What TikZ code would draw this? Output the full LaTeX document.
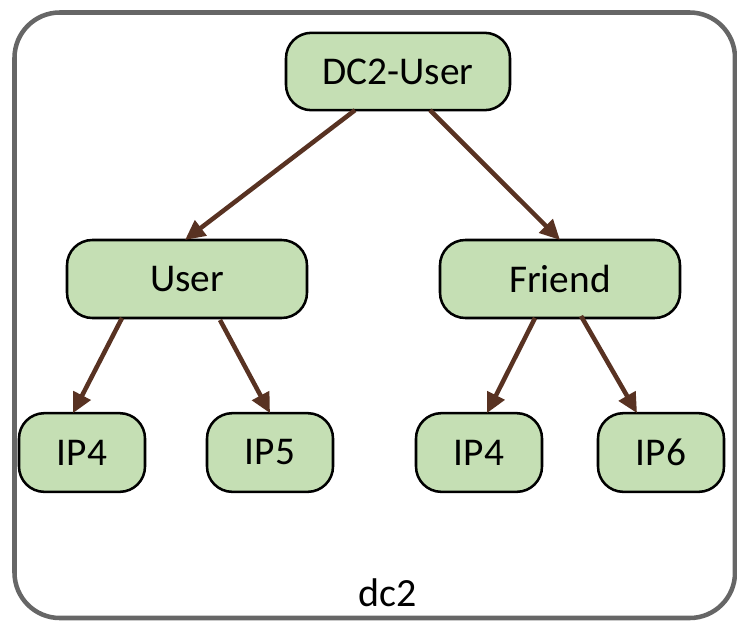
\documentclass[tikz,border=0pt]{standalone}
\usepackage{fontspec}
\setmainfont{Carlito}
\usetikzlibrary{arrows.meta,calc}
\definecolor{nodefill}{HTML}{C5DFB4}
\definecolor{arrowc}{HTML}{583222}
\definecolor{framec}{HTML}{666666}
\begin{document}
\begin{tikzpicture}[x=0.75pt,y=-0.75pt,
  box/.style={draw=black,line width=1.9pt,fill=nodefill,rounded corners=19pt,inner sep=0pt,outer sep=0pt,font=\fontsize{29.5}{34}\selectfont},
  topbox/.style={box,minimum width=168pt,minimum height=58pt},
  midbox/.style={box,minimum width=180pt,minimum height=58.5pt},
  leafbox/.style={box,minimum width=94.5pt,minimum height=59pt},
  conn/.style={draw=arrowc,line width=3.4pt,-{Triangle[length=15pt,width=14pt]}},
  frame/.style={draw=framec,line width=3.4pt,rounded corners=34pt}]
\useasboundingbox (0,0) rectangle (737,621);
\draw[frame] (14.5,12.5) rectangle (735,618);
\node[topbox] (dc) at (398,71.5) {\raisebox{-3pt}{DC2-User}};
\node[midbox] (user) at (187,279) {\raisebox{-3.5pt}{User}};
\node[midbox] (friend) at (560,279) {\raisebox{-3.5pt}{Friend}};
\node[leafbox] (ip4a) at (82,452.5) {\raisebox{-3pt}{IP4}};
\node[leafbox] (ip5) at (270,452.5) {\raisebox{-3pt}{IP5}};
\node[leafbox] (ip4b) at (479,452.5) {\raisebox{-3pt}{IP4}};
\node[leafbox] (ip6) at (661,452.5) {\raisebox{-3pt}{IP6}};
\node[font=\fontsize{30}{34}\selectfont,inner sep=0pt] (lbl) at (388,593) {dc2};
\draw[conn] ($(dc.south)+(-43,0)$) -- ($(user.north)+(-2,0)$);
\draw[conn] ($(dc.south)+(32,0)$) -- ($(friend.north)+(0,0)$);
\draw[conn] ($(user.south)+(-65,0)$) -- ($(ip4a.north)+(-9,0)$);
\draw[conn] ($(user.south)+(33,2)$) -- ($(ip5.north)+(0,0)$);
\draw[conn] ($(friend.south)+(-25,0)$) -- ($(ip4b.north)+(8,0)$);
\draw[conn] ($(friend.south)+(21,-2)$) -- ($(ip6.north)+(-24,0)$);
\end{tikzpicture}
\end{document}
